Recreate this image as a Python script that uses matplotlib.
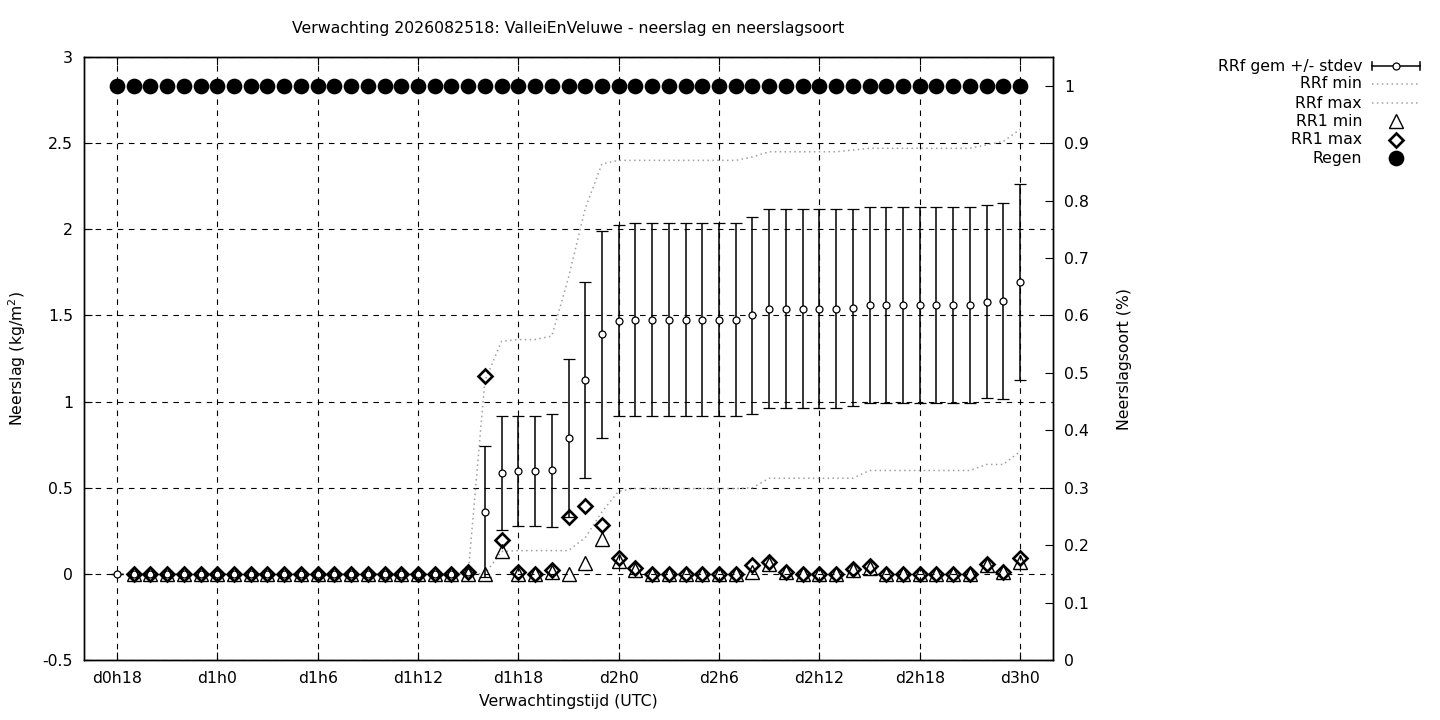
import numpy as np
import matplotlib
matplotlib.use("Agg")
import matplotlib.pyplot as plt
from matplotlib.lines import Line2D

plt.rcParams['font.family'] = ['DejaVu Sans']
plt.rcParams['font.size'] = 11.3

# forecast hours, d0h18 .. d3h0
hours = list(range(18, 73))

# RRf mean and stdev (kg/m2), hourly h18..h72
rrf_mean = [0.0] * 21 + [0.01,
            0.36, 0.585, 0.595, 0.595, 0.60, 0.79, 1.125, 1.39, 1.47,
            1.475, 1.475, 1.475, 1.475, 1.475, 1.475, 1.475, 1.50,
            1.54, 1.54, 1.54, 1.54, 1.54, 1.545,
            1.56, 1.56, 1.56, 1.56, 1.56, 1.56, 1.56,
            1.58, 1.585, 1.695]
rrf_std = [0.0] * 22 + [
           0.38, 0.33, 0.32, 0.32, 0.33, 0.46, 0.57, 0.60, 0.555,
           0.56, 0.56, 0.56, 0.56, 0.56, 0.56, 0.56, 0.57,
           0.575, 0.575, 0.575, 0.575, 0.575, 0.57,
           0.57, 0.57, 0.57, 0.57, 0.57, 0.57, 0.57,
           0.56, 0.57, 0.57]

rrf_min = [0.0] * 23 + [
           0.13, 0.135, 0.135, 0.135, 0.135, 0.21, 0.36, 0.48,
           0.495, 0.495, 0.495, 0.495, 0.495, 0.495, 0.495, 0.50,
           0.555, 0.555, 0.555, 0.555, 0.555, 0.555,
           0.60, 0.60, 0.60, 0.60, 0.60, 0.60, 0.60,
           0.635, 0.635, 0.71]
rrf_max = [0.0] * 22 + [
           1.12, 1.35, 1.36, 1.36, 1.38, 1.72, 2.12, 2.38, 2.40,
           2.40, 2.40, 2.40, 2.40, 2.40, 2.40, 2.40, 2.42,
           2.45, 2.45, 2.45, 2.45, 2.45, 2.46,
           2.47, 2.47, 2.47, 2.47, 2.47, 2.47, 2.47,
           2.49, 2.51, 2.58]

# hourly RR1 min / max, h19..h72
rr1_hours = list(range(19, 73))
rr1_min = [0.0] * 21 + [
           0.0, 0.13, 0.0, 0.0, 0.01, 0.0, 0.065, 0.20, 0.075, 0.02,
           0.0, 0.0, 0.0, 0.0, 0.0, 0.0, 0.01, 0.06, 0.01, 0.0,
           0.0, 0.0, 0.02, 0.035, 0.0, 0.0, 0.0, 0.0, 0.0, 0.0,
           0.05, 0.01, 0.07]
rr1_max = [0.0] * 20 + [0.013,
           1.15, 0.195, 0.013, 0.0, 0.023, 0.33, 0.395, 0.285, 0.09, 0.033,
           0.0, 0.0, 0.0, 0.0, 0.0, 0.0, 0.052, 0.066, 0.013, 0.0,
           0.0, 0.0, 0.027, 0.043, 0.0, 0.0, 0.0, 0.0, 0.0, 0.0,
           0.058, 0.013, 0.091]

# precipitation type fraction (rain)
regen = [1.0] * len(hours)

tick_hours = [18, 24, 30, 36, 42, 48, 54, 60, 66, 72]
tick_labels = ["d0h18", "d1h0", "d1h6", "d1h12", "d1h18",
               "d2h0", "d2h6", "d2h12", "d2h18", "d3h0"]

fig = plt.figure(figsize=(14.4, 7.2), dpi=100)
ax = fig.add_axes([84/1440, 60/720, (1053-84)/1440, (660-57)/720])
ax2 = ax.twinx()

grey = '#a0a0a0'
ax.errorbar(hours, rrf_mean, yerr=rrf_std, fmt='o', ms=5, mfc='white', mec='black',
            mew=0.9, ecolor='black', elinewidth=1.1, capsize=4.5, capthick=1.1, zorder=3)
ax.plot(hours, rrf_min, color=grey, lw=1.1, ls=(0, (1, 2.2)), zorder=2)
ax.plot(hours, rrf_max, color=grey, lw=1.1, ls=(0, (1, 2.2)), zorder=2)
ax.plot(rr1_hours, rr1_min, ls='none', marker='^', ms=9.5, mfc='none', mec='black', mew=1.0, zorder=4)
ax.plot(rr1_hours, rr1_max, ls='none', marker='D', ms=7.5, mfc='none', mec='black', mew=1.9, zorder=5)
ax2.plot(hours, regen, ls='none', marker='o', ms=11.3, mew=0, color='black')

ax.set_xlim(16.03, 73.97)
ax.set_ylim(-0.5, 3)
ax2.set_ylim(0, 1.05)
ax.set_xticks(tick_hours)
ax.set_xticklabels(tick_labels)
ax.set_yticks(np.arange(-0.5, 3.01, 0.5))
ax.set_yticklabels(["-0.5", "0", "0.5", "1", "1.5", "2", "2.5", "3"])
ax2.set_yticks(np.arange(0, 1.01, 0.1))
ax2.set_yticklabels(["0", "0.1", "0.2", "0.3", "0.4", "0.5", "0.6", "0.7", "0.8", "0.9", "1"])

ax.grid(True, color='black', lw=0.8, ls=(0, (5, 5)))
ax.tick_params(axis='x', direction='in', length=6, top=True, pad=8)
ax.tick_params(axis='y', direction='in', length=6, right=False, pad=8)
ax2.tick_params(axis='y', direction='in', length=6, pad=8)
for a in (ax, ax2):
    for s in a.spines.values():
        s.set_linewidth(1.0)

ax.set_xlabel("Verwachtingstijd (UTC)", labelpad=6)
ax.set_ylabel("Neerslag (kg/m$^2$)", labelpad=10)
ax2.set_ylabel("Neerslagsoort (%)", labelpad=20)
fig.text(568.5/1440, 1 - 29/720, "Verwachting 2026082518: ValleiEnVeluwe - neerslag en neerslagsoort",
         ha='center', va='center')

# key in the top right, gnuplot style
names = ["RRf gem +/- stdev", "RRf min", "RRf max", "RR1 min", "RR1 max", "Regen"]
rows = [66, 84, 103, 121, 140, 158]
W, H = 1440.0, 720.0
for name, yp in zip(names, rows):
    fy = 1 - yp / H
    fig.text(1362 / W, fy, name, ha='right', va='center')
xs0, xs1, xm = 1372 / W, 1420 / W, 1396 / W
dy = 4 / H
fy = 1 - rows[0] / H
fig.add_artist(Line2D([xs0, xs1], [fy, fy], color='black', lw=1.1))
fig.add_artist(Line2D([xs0, xs0], [fy - dy, fy + dy], color='black', lw=1.1))
fig.add_artist(Line2D([xs1, xs1], [fy - dy, fy + dy], color='black', lw=1.1))
fig.add_artist(Line2D([xm], [fy], marker='o', ms=5, mfc='white', mec='black', mew=0.9))
for yp in rows[1:3]:
    fy = 1 - yp / H
    fig.add_artist(Line2D([xs0, xs1], [fy, fy], color=grey, lw=1.1, ls=(0, (1, 2.2))))
fig.add_artist(Line2D([xm], [1 - rows[3] / H], marker='^', ms=9.5, mfc='none', mec='black', mew=1.0))
fig.add_artist(Line2D([xm], [1 - rows[4] / H], marker='D', ms=7.5, mfc='none', mec='black', mew=1.9))
fig.add_artist(Line2D([xm], [1 - rows[5] / H], marker='o', ms=11.3, mew=0, color='black'))

fig.savefig("out.png", dpi=100)
